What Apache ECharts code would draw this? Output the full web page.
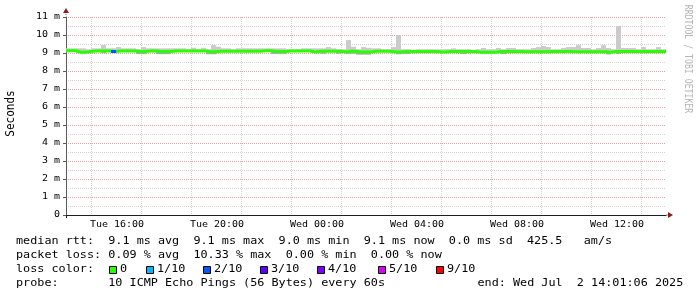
<!DOCTYPE html>
<html><head><meta charset="utf-8">
<script src="https://cdn.jsdelivr.net/npm/echarts@6/dist/echarts.min.js"></script>
<style>html,body{margin:0;padding:0;background:#fff}#c{width:697px;height:297px}</style>
</head><body><div id="c"></div>
<script>
// ---- data ----
const startHour = 14, endHour = 38, binHours = 0.2;   // Tue 14:00 .. Wed 14:00, 12-minute bins
const median = [
 9.13,9.13,9.04,9.04,9.09,9.11,9.11,9.11,9.11,9.09,
 9.11,9.11,9.11,9.11,9.08,9.08,9.11,9.11,9.08,9.08,
 9.08,9.11,9.11,9.11,9.11,9.11,9.11,9.11,9.07,9.07,
 9.10,9.10,9.10,9.10,9.10,9.10,9.10,9.10,9.10,9.12,
 9.12,9.09,9.09,9.09,9.11,9.11,9.11,9.11,9.11,9.05,
 9.10,9.10,9.10,9.10,9.10,9.06,9.10,9.10,9.05,9.05,
 9.05,9.10,9.10,9.10,9.10,9.06,9.06,9.09,9.09,9.09,
 9.09,9.09,9.09,9.09,9.05,9.05,9.08,9.08,9.08,9.08,
 9.08,9.08,9.04,9.04,9.04,9.04,9.08,9.08,9.08,9.08,
 9.08,9.07,9.07,9.07,9.07,9.07,9.08,9.08,9.08,9.08,
 9.08,9.07,9.07,9.07,9.07,9.07,9.07,9.07,9.04,9.08,
 9.08,9.08,9.08,9.08,9.08,9.08,9.08,9.08,9.08,9.08];
const smokeLo = [
 9.08,9.08,8.99,8.99,9.04,9.06,9.06,8.99,9.06,9.04,
 9.06,9.06,9.06,9.06,8.94,8.94,9.06,9.06,8.94,8.94,
 8.94,9.06,9.06,9.06,9.06,9.06,9.06,9.06,8.93,8.93,
 9.05,9.05,9.05,9.05,9.05,9.05,9.05,9.05,9.05,9.07,
 9.07,8.95,8.95,8.95,9.06,9.06,9.06,9.06,9.06,9.00,
 9.05,8.96,9.05,9.05,8.96,9.01,8.96,8.96,8.91,8.91,
 8.91,9.05,9.05,9.05,9.05,9.01,8.93,8.95,8.95,9.04,
 9.04,9.04,9.04,9.04,9.00,9.00,9.03,9.03,9.03,8.94,
 9.03,9.03,8.99,8.99,8.99,8.99,9.03,8.94,9.03,9.03,
 9.03,9.02,9.02,9.02,9.02,9.02,9.03,9.03,9.03,9.03,
 9.03,9.02,9.02,9.02,9.02,9.02,9.02,9.02,8.92,9.03,
 8.95,9.03,9.03,9.03,9.03,9.03,9.03,9.03,9.03,9.03];
const smokeHi = [
 9.26,9.26,9.26,9.26,9.21,9.26,9.26,9.44,9.26,9.26,
 9.33,9.26,9.26,9.26,9.21,9.33,9.26,9.26,9.26,9.26,
 9.26,9.26,9.26,9.26,9.21,9.29,9.21,9.29,9.21,9.44,
 9.35,9.26,9.26,9.21,9.26,9.26,9.26,9.26,9.26,9.26,
 9.26,9.26,9.26,9.26,9.21,9.21,9.21,9.26,9.26,9.26,
 9.26,9.26,9.33,9.26,9.21,9.21,9.72,9.35,9.21,9.33,
 9.29,9.26,9.26,9.21,9.21,9.33,10.0,9.21,9.21,9.17,
 9.21,9.21,9.21,9.21,9.21,9.21,9.21,9.26,9.21,9.21,
 9.21,9.15,9.21,9.28,9.21,9.21,9.28,9.21,9.28,9.28,
 9.21,9.21,9.21,9.28,9.33,9.39,9.33,9.21,9.21,9.28,
 9.33,9.33,9.44,9.28,9.28,9.21,9.28,9.44,9.28,9.21,
 10.5,9.28,9.28,9.28,9.21,9.33,9.21,9.21,9.33,9.21];
const lossLevel = [
 0,0,0,0,0,0,0,0,0,2, 0,0,0,0,0,0,0,0,0,0, 0,0,0,0,0,0,0,0,0,0,
 0,0,0,0,0,0,0,0,0,0, 0,0,0,0,0,0,0,0,0,0, 0,0,0,0,0,0,0,0,0,0,
 0,0,0,0,0,0,0,0,0,0, 0,0,0,0,0,0,0,0,0,0, 0,0,0,0,0,0,0,0,0,0,
 0,0,0,0,0,0,0,0,0,0, 0,0,0,0,0,0,0,0,0,0, 0,0,0,0,0,0,0,0,0,0];
const lossLabels = ['0','1/10','2/10','3/10','4/10','5/10','9/10'];
const lossColors = ['#26ff00','#00b8ff','#0059ff','#5e00ff','#7e00ff','#dd00ff','#ff0000'];
const yTickValues = [0,1,2,3,4,5,6,7,8,9,10,11];
const yTickLabels = ['0','1 m','2 m','3 m','4 m','5 m','6 m','7 m','8 m','9 m','10 m','11 m'];
const xTickHours  = [16,20,24,28,32,36];
const xTickLabels = ['Tue 16:00','Tue 20:00','Wed 00:00','Wed 04:00','Wed 08:00','Wed 12:00'];
const rttStats  = ['9.1 ms avg','9.1 ms max','9.0 ms min','9.1 ms now','0.0 ms sd','425.5   am/s'];
const lossStats = ['0.09 % avg','10.33 % max','0.00 % min','0.00 % now'];
const probeText = '10 ICMP Echo Pings (56 Bytes) every 60s';
const endText   = 'end: Wed Jul  2 14:01:06 2025';
const creditText = 'RRDTOOL / TOBI OETIKER';

// ---- build ----
const FONT = 'DejaVu Sans Mono';
const xs = median.map((_, i) => +(startHour + i * binHours).toFixed(4));
const xEnd = xs.map((_, i) => i + 1 < xs.length ? xs[i + 1] : endHour);
function stepData(vals) {
  const d = vals.map((v, i) => [xs[i], v]);
  d.push([endHour, vals[vals.length - 1]]);
  return d;
}
const smokeData = median.map((m, i) => [xs[i], xEnd[i], smokeLo[i], m, smokeHi[i]]);

const series = [
  {type:'custom', silent:true, z:2, data:smokeData,
   encode:{x:[0,1], y:[2,3,4]},
   renderItem:function (params, api) {
     const pLo = api.coord([api.value(0), api.value(2)]);
     const pMd = api.coord([api.value(1), api.value(3)]);
     const pHi = api.coord([api.value(1), api.value(4)]);
     const w = pMd[0] - pLo[0];
     return {type:'group', children:[
       {type:'rect', shape:{x:pLo[0], y:pMd[1], width:w, height:pLo[1] - pMd[1]}, style:{fill:'#a9a9a9'}},
       {type:'rect', shape:{x:pLo[0], y:pHi[1], width:w, height:pMd[1] - pHi[1]}, style:{fill:'#cbcbcb'}}
     ]};
   }},
  {type:'line', step:'end', data:stepData(median), symbol:'none', silent:true,
   lineStyle:{color:lossColors[0], width:3}, z:3}
];
lossLevel.forEach((l, i) => {
  if (l > 0) {
    series.push({type:'line', data:[[xs[i], median[i]], [xEnd[i], median[i]]], symbol:'none', silent:true,
      lineStyle:{color:lossColors[l], width:3, cap:'butt'}, z:4});
  }
});

const MAJOR = '#ec9c9c', MINOR = '#d3d3d3';
const option = {
  animation:false,
  backgroundColor:'#ffffff',
  grid:{left:66, top:17, width:600, height:198, containLabel:false, outerBoundsMode:'none'},
  xAxis:[{
    type:'value', min:startHour, max:endHour, interval:2,
    axisLine:{show:true, onZero:false, lineStyle:{color:'#1e1e1e', width:1},
      symbol:['none','path://M0 0H1V1H0Z'], symbolSize:[1,2], symbolOffset:[0,1]},
    axisTick:{show:true, length:3, customValues:[startHour], lineStyle:{color:'#1e1e1e'}},
    axisLabel:{show:false},
    splitLine:{show:true, lineStyle:{color:MAJOR, width:1, type:[1,1]}},
    minorTick:{show:false, splitNumber:2},
    minorSplitLine:{show:true, lineStyle:{color:MINOR, width:1, type:[1,1]}}
  },{
    type:'value', min:startHour, max:endHour, position:'bottom',
    axisLine:{show:true, onZero:false, lineStyle:{color:'#8c1c1c', opacity:0},
      symbol:['none','triangle'], symbolSize:[6,5], symbolOffset:[0,4.5]},
    axisTick:{show:false}, axisLabel:{show:false}, splitLine:{show:false}
  }],
  yAxis:[{
    type:'value', min:0, max:11, interval:1,
    axisLine:{show:true, onZero:false, lineStyle:{color:'#5a5a5a', width:1},
      symbol:['none','path://M0 0H1V1H0Z'], symbolSize:[1,5], symbolOffset:[0,2.5]},
    axisTick:{show:true, length:3, lineStyle:{color:'#5a5a5a'}},
    axisLabel:{show:false},
    splitLine:{show:true, lineStyle:{color:MAJOR, width:1, type:[1,1]}},
    minorTick:{show:false, splitNumber:2},
    minorSplitLine:{show:true, lineStyle:{color:MINOR, width:1, type:[1,1]}}
  },{
    type:'value', position:'left',
    axisLine:{show:true, onZero:false, lineStyle:{color:'#8c1c1c', opacity:0},
      symbol:['none','triangle'], symbolSize:[6,5], symbolOffset:[0,6.5]},
    axisTick:{show:false}, axisLabel:{show:false}, splitLine:{show:false}
  }],
  series: series
};

const chart = echarts.init(document.getElementById('c'), null, {renderer:'canvas', width:697, height:297});
chart.setOption(option);

// ---- texts (stretched monospace, like the reference) ----
function txt(text, x, y, opt) {
  opt = opt || {};
  return {type:'text', x:x, y:y, rotation:opt.rot || 0, scaleX:opt.sx || 1, scaleY:opt.sy || 1, silent:true, z:10,
    style:{text:text, fontFamily:FONT, fontSize:opt.fs || 9.6, fill:opt.color || '#000',
      align:opt.align || 'left', verticalAlign:'middle'}};
}
const g = [];
const AX = {fs:8, sx:1.25};
yTickValues.forEach((v, k) => {
  const py = chart.convertToPixel({yAxisIndex:0}, v);
  g.push(txt(yTickLabels[k], 60, py - 0.5, Object.assign({align:'right'}, AX)));
});
xTickHours.forEach((h, k) => {
  const px = chart.convertToPixel({xAxisIndex:0}, h);
  g.push(txt(xTickLabels[k], px + 1, 224.6, Object.assign({align:'center'}, AX)));
});
g.push(txt('Seconds', 11, 113.5, {rot:Math.PI / 2, align:'center', fs:10, sx:1.1, sy:1.2}));
g.push(txt(creditText, 688, 59, {rot:-Math.PI / 2, align:'center', fs:8.2, sy:1.28, color:'#b5b5b5'}));

const LG = {fs:9.6, sx:1.2286};
g.push(txt('median rtt:  ' + rttStats.join('  '), 16, 241.1, LG));
g.push(txt('packet loss: ' + lossStats.join('  '), 16, 255.3, LG));
g.push(txt('loss color:', 16, 269.5, LG));
const boxX = [109, 146, 203, 260, 317, 378, 436];
lossLabels.forEach((lab, k) => {
  g.push({type:'rect', silent:true, z:10, shape:{x:boxX[k] + 0.5, y:266.5, width:7, height:7},
    style:{fill:lossColors[k], stroke:'#000', lineWidth:1}});
  g.push(txt(lab, boxX[k] + 11, 269.5, LG));
});
g.push(txt('probe:       ' + probeText, 16, 283.7, LG));
g.push(txt(endText, 477.5, 283.7, LG));
chart.setOption({graphic: g});
</script></body></html>
